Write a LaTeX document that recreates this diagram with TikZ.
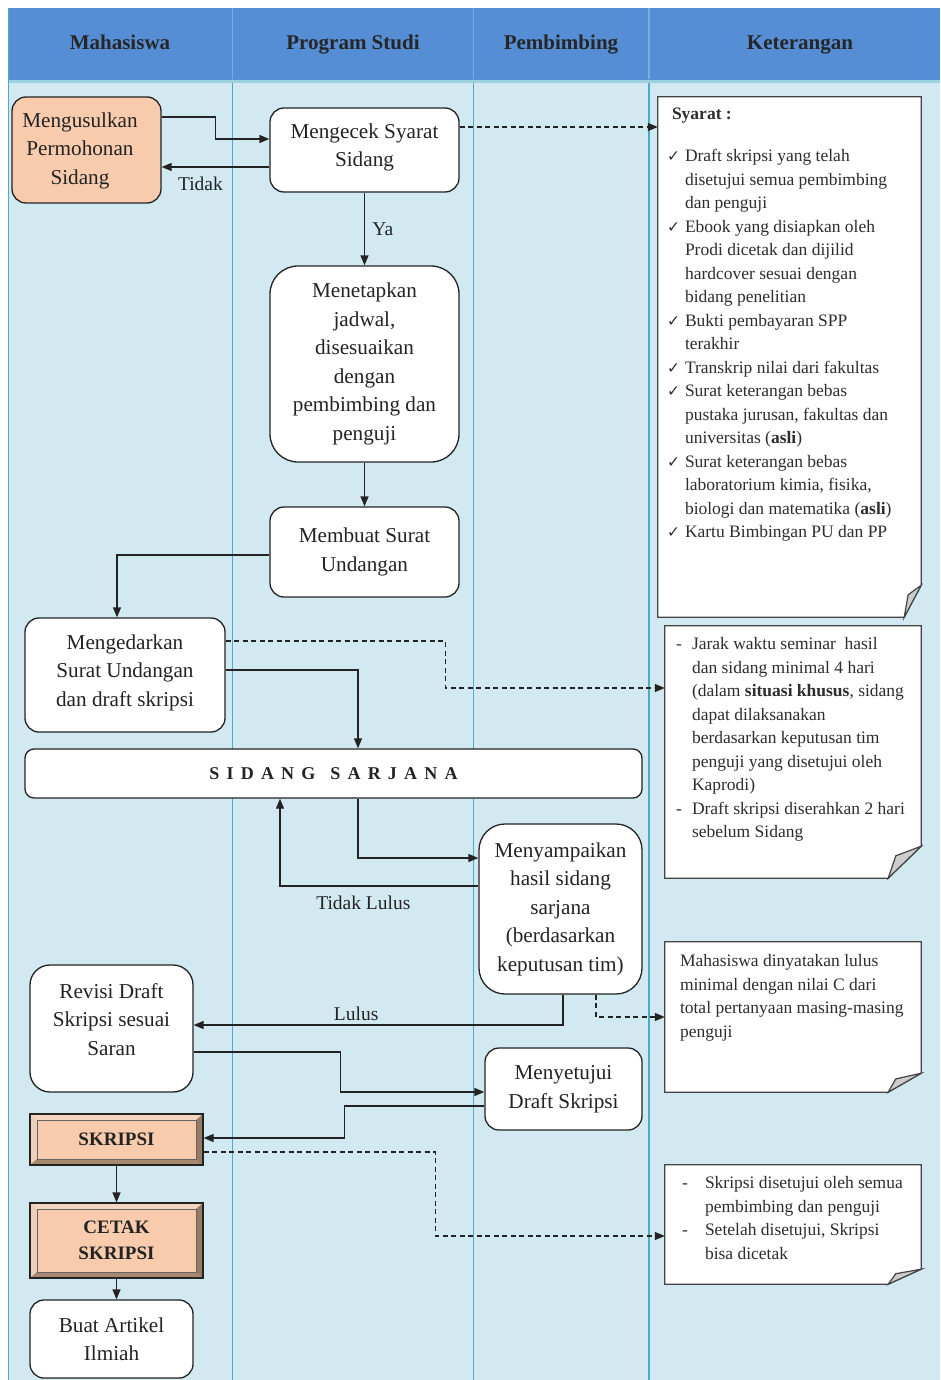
\documentclass[tikz,border=0pt]{standalone}
\usepackage{fontspec}
\setmainfont{Liberation Serif}
\newfontfamily\symfont{DejaVu Sans}
\usetikzlibrary{arrows.meta}
\definecolor{hdr}{RGB}{85,142,213}
\definecolor{hdrline}{RGB}{120,175,225}
\definecolor{lanebg}{RGB}{210,233,242}
\definecolor{laneline}{RGB}{75,172,198}
\definecolor{peach}{RGB}{248,203,173}
\definecolor{bevlight}{RGB}{244,214,192}
\definecolor{bevdark}{RGB}{168,136,112}
\definecolor{ink}{RGB}{35,35,35}
\definecolor{notetext}{RGB}{45,45,45}
% #1 node, #2 fold width, #3 fold height
\newcommand\notefold[3]{%
  \draw[noteline, fill=white] (#1.north west) -- (#1.north east) -- ([yshift=#3pt]#1.south east) -- ([xshift=-#2pt]#1.south east) -- (#1.south west) -- cycle;
  \filldraw[noteline, fill=gray!40] ([yshift=#3pt]#1.south east) -- ([xshift=-0.77*#2pt,yshift=0.7*#3pt]#1.south east) -- ([xshift=-#2pt]#1.south east) -- cycle;}
\tikzset{
  box/.style={draw=ink, line width=1.3pt, fill=white, rounded corners=14pt, align=center, text=ink, inner sep=0pt, font=\fontsize{21.2}{28.5}\selectfont},
  bevelbox/.style={draw=ink, line width=1.2pt, fill=peach, align=center, text=ink, inner sep=0pt, font=\bfseries\fontsize{19}{26}\selectfont,
    path picture={
      \fill[bevlight] (path picture bounding box.north west) -- (path picture bounding box.north east) -- ([xshift=-7pt,yshift=-6pt]path picture bounding box.north east) -- ([xshift=7pt,yshift=-6pt]path picture bounding box.north west) -- cycle;
      \fill[bevlight!92!bevdark] (path picture bounding box.north west) -- ([xshift=7pt,yshift=-6pt]path picture bounding box.north west) -- ([xshift=7pt,yshift=6pt]path picture bounding box.south west) -- (path picture bounding box.south west) -- cycle;
      \fill[bevdark] (path picture bounding box.south west) -- (path picture bounding box.south east) -- ([xshift=-7pt,yshift=6pt]path picture bounding box.south east) -- ([xshift=7pt,yshift=6pt]path picture bounding box.south west) -- cycle;
      \fill[bevdark!90!black] (path picture bounding box.north east) -- ([xshift=-7pt,yshift=-6pt]path picture bounding box.north east) -- ([xshift=-7pt,yshift=6pt]path picture bounding box.south east) -- (path picture bounding box.south east) -- cycle;
      \draw[ink!70, line width=0.5pt] ([xshift=7pt,yshift=-6pt]path picture bounding box.north west) rectangle ([xshift=-7pt,yshift=6pt]path picture bounding box.south east);
    }},
  notearea/.style={draw=none, inner sep=0pt},
  noteline/.style={draw=ink!85, line width=1.2pt},
  notetxt/.style={anchor=north west, inner sep=0pt, text=notetext, font=\fontsize{17.5}{23.5}\selectfont},
  hdrtext/.style={anchor=base, font=\bfseries\fontsize{21}{24}\selectfont, text=black!85},
  lbl/.style={font=\fontsize{19.5}{22}\selectfont, text=ink},
  arr/.style={draw=ink, line width=1.3pt, -{Triangle[length=10pt,width=8pt]}},
  darr/.style={draw=ink, line width=1.2pt, dashed, dash pattern=on 5pt off 3.5pt, -{Triangle[length=10pt,width=8pt]}},
}
\newcommand\ck{{\symfont\fontsize{15.5}{23.5}\selectfont ✓}}
\begin{document}
\begin{tikzpicture}[x=1pt,y=-1pt]
\useasboundingbox (0,0) rectangle (940,1380);
\fill[white] (0,0) rectangle (940,1380);
% lanes
\fill[lanebg] (8,80) rectangle (940,1380);
\fill[hdr] (8,8) rectangle (940,80);
\draw[laneline!55, line width=3.5pt] (8,81.5) -- (940,81.5);
\foreach \xx in {232,473} {
  \draw[hdrline, line width=1pt] (\xx,8) -- (\xx,79);
  \draw[laneline, line width=1pt] (\xx,83) -- (\xx,1380);
}
\draw[hdrline, line width=1.5pt] (649,8) -- (649,79);
\draw[laneline, line width=2.6pt] (649,83) -- (649,1380);
\draw[laneline, line width=1pt] (8,8) -- (8,1380);
% headers
\node[hdrtext] (h1) at (120,50) {Mahasiswa};
\node[hdrtext] (h2) at (353,50) {Program Studi};
\node[hdrtext] (h3) at (561,50) {Pembimbing};
\node[hdrtext] (h4) at (800,50) {Keterangan};
% process nodes
\node[box, fill=peach, minimum width=149pt, minimum height=106pt] (usul) at (86.5,150) {\begin{tabular}{@{}c@{\hspace{13pt}}}Mengusulkan\\Permohonan\\Sidang\end{tabular}};
\node[box, minimum width=189pt, minimum height=84pt] (cek) at (364.5,150) {Mengecek Syarat\\Sidang\\[-19pt]\mbox{}};
\node[box, rounded corners=28pt, minimum width=189pt, minimum height=196pt] (jadwal) at (364.5,364) {Menetapkan\\jadwal,\\disesuaikan\\dengan\\pembimbing dan\\penguji};
\node[box, minimum width=189pt, minimum height=90pt] (surat) at (364.5,552) {Membuat Surat\\Undangan};
\node[box, minimum width=200pt, minimum height=114pt] (edar) at (125,675) {Mengedarkan\\Surat Undangan\\dan draft skripsi\\[-19pt]\mbox{}};
\node[box, rounded corners=9pt, minimum width=617pt, minimum height=49pt, font=\bfseries\fontsize{18}{22}\selectfont] (sidang) at (333.5,773.5) {S\hskip7.2pt I\hskip7.2pt D\hskip7.2pt A\hskip7.2pt N\hskip7.2pt G\hskip15pt S\hskip7.2pt A\hskip7.2pt R\hskip7.2pt J\hskip7.2pt A\hskip7.2pt N\hskip7.2pt A};
\node[box, rounded corners=26pt, minimum width=163pt, minimum height=170pt] (hasil) at (560.5,909) {Menyampaikan\\hasil sidang\\sarjana\\(berdasarkan\\keputusan tim)};
\node[box, rounded corners=20pt, minimum width=163pt, minimum height=127pt] (revisi) at (111.5,1028.5) {Revisi Draft\\Skripsi sesuai\\Saran\\[-10pt]\mbox{}};
\node[box, minimum width=157pt, minimum height=82pt] (setuju) at (563.5,1089) {Menyetujui\\Draft Skripsi};
\node[bevelbox, minimum width=173pt, minimum height=51pt] (skripsi) at (116.5,1139.5) {SKRIPSI};
\node[bevelbox, minimum width=173pt, minimum height=75pt] (cetak) at (116.5,1240.5) {CETAK\\SKRIPSI};
\node[box, minimum width=163pt, minimum height=78pt] (artikel) at (111.5,1339) {Buat Artikel\\Ilmiah};
% notes
\node[notearea, minimum width=263pt, minimum height=520pt] (n1) at (789.5,357) {};
\notefold{n1}{17}{32}
\node[notearea, minimum width=256pt, minimum height=252pt] (n2) at (793,752) {};
\notefold{n2}{33}{32}
\node[notearea, minimum width=256pt, minimum height=150pt] (n3) at (793,1017) {};
\notefold{n3}{33}{19}
\node[notearea, minimum width=256pt, minimum height=119pt] (n4) at (793,1224.5) {};
\notefold{n4}{33}{15}
\node[notetxt, anchor=west] (n1t) at ([xshift=14pt,yshift=-19pt]n1.north west) {\textbf{Syarat :}};
\node[notetxt] (n1l) at ([xshift=9pt,yshift=-48.5pt]n1.north west) {%
\begin{tabular}{@{}p{18pt}@{}l@{}}
\ck & Draft skripsi yang telah\\
 & disetujui semua pembimbing\\
 & dan penguji\\
\ck & Ebook yang disiapkan oleh\\
 & Prodi dicetak dan dijilid\\
 & hardcover sesuai dengan\\
 & bidang penelitian\\
\ck & Bukti pembayaran SPP\\
 & terakhir\\
\ck & Transkrip nilai dari fakultas\\
\ck & Surat keterangan bebas\\
 & pustaka jurusan, fakultas dan\\
 & universitas (\textbf{asli})\\
\ck & Surat keterangan bebas\\
 & laboratorium kimia, fisika,\\
 & biologi dan matematika (\textbf{asli})\\
\ck & Kartu Bimbingan PU dan PP
\end{tabular}};
\node[notetxt] (n2l) at ([xshift=11pt,yshift=-7.5pt]n2.north west) {%
\begin{tabular}{@{}p{16pt}@{}l@{}}
- & Jarak waktu seminar\ \ hasil\\
 & dan sidang minimal 4 hari\\
 & (dalam \textbf{situasi khusus}, sidang\\
 & dapat dilaksanakan\\
 & berdasarkan keputusan tim\\
 & penguji yang disetujui oleh\\
 & Kaprodi)\\
- & Draft skripsi diserahkan 2 hari\\
 & sebelum Sidang
\end{tabular}};
\node[notetxt] (n3l) at ([xshift=15pt,yshift=-8.5pt]n3.north west) {%
\begin{tabular}{@{}l@{}}
Mahasiswa dinyatakan lulus\\
minimal dengan nilai C dari\\
total pertanyaan masing-masing\\
penguji
\end{tabular}};
\node[notetxt] (n4l) at ([xshift=17pt,yshift=-7.5pt]n4.north west) {%
\begin{tabular}{@{}p{23pt}@{}l@{}}
- & Skripsi disetujui oleh semua\\
 & pembimbing dan penguji\\
- & Setelah disetujui, Skripsi\\
 & bisa dicetak
\end{tabular}};
% connectors
\draw[arr] ([yshift=33pt]usul.east) -- ++(54,0) |- ([yshift=11pt]cek.west);
\draw[arr] ([yshift=-17pt]cek.west) -- node[lbl, pos=0.64, below=6pt] (ltidak) {Tidak} ([yshift=-17pt]cek.west -| usul.east);
\draw[arr] (cek.south) -- node[lbl, right=4pt] (lya) {Ya} (jadwal.north);
\draw[arr] (jadwal.south) -- (surat.north);
\draw[arr] ([yshift=-3pt]surat.west) -| ([xshift=-8pt]edar.north);
\draw[arr] ([yshift=5pt]edar.east) -| ([xshift=24.5pt]sidang.north);
\draw[darr] ([yshift=34pt]edar.east) -- ++(220,0) |- ([yshift=64pt]n2.west);
\draw[darr] ([yshift=23pt]cek.east) -- ([yshift=23pt]cek.east -| n1.west);
\draw[arr] ([xshift=24.5pt]sidang.south) |- ([yshift=51pt]hasil.west);
\draw[arr] ([yshift=23pt]hasil.west) -| node[lbl, pos=0.29, below=6pt] (ltl) {Tidak Lulus} ([xshift=-53.5pt]sidang.south);
\draw[arr] ([xshift=2.5pt]hasil.south) |- node[lbl, pos=0.78, above=0pt] (llulus) {Lulus} ([yshift=3.5pt]revisi.east);
\draw[darr] ([xshift=35.5pt]hasil.south) |- (n3.west);
\draw[arr] ([yshift=-23.5pt]revisi.east) -- ++(147,0) |- ([yshift=-3pt]setuju.west);
\draw[arr] ([yshift=-17pt]setuju.west) -- ++(-140,0) |- ([yshift=1.5pt]skripsi.east);
\draw[darr] ([yshift=-12.5pt]skripsi.east) -- ++(232,0) |- ([yshift=-11.5pt]n4.west);
\draw[arr] (skripsi.south) -- (cetak.north);
\draw[arr] (cetak.south) -- ([xshift=5pt]artikel.north);
\end{tikzpicture}
\end{document}
